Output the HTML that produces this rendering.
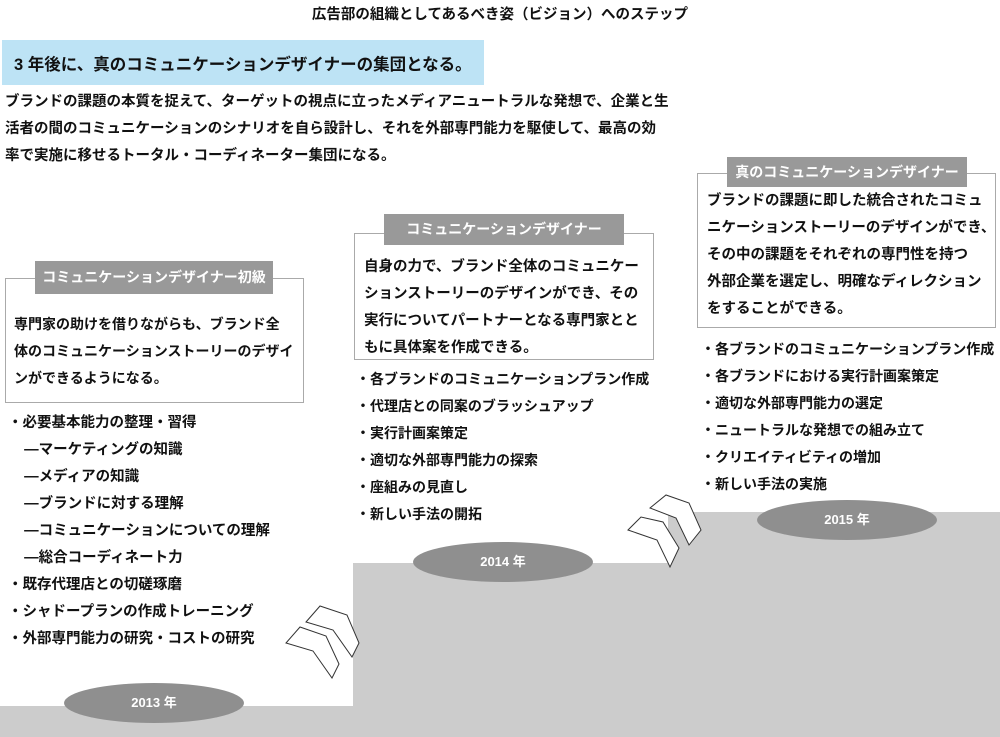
<!DOCTYPE html>
<html><head><meta charset="utf-8"><style>
body{margin:0;width:1000px;height:737px;position:relative;overflow:hidden;background:#fff;font-family:"Liberation Sans","Noto Sans CJK JP",sans-serif;font-weight:bold;color:#111}
.a{position:absolute;white-space:nowrap}
.box{position:absolute;border:1.5px solid #aaa;background:#fff;box-sizing:border-box}
.lab{position:absolute;background:#999;color:#fff;font-size:14px;text-align:center;box-sizing:border-box}
.t{font-size:14.5px;line-height:27px;letter-spacing:0}
.l{font-size:14px;line-height:27px}
.ell{position:absolute;background:#8f8f8f;border-radius:50%;color:#fff;font-size:13px;text-align:center}
</style></head><body>
<svg class="a" style="left:0;top:0" width="1000" height="737">
<polygon points="0,706 353,706 353,563 668,563 668,512 1000,512 1000,737 0,737" fill="#cccccc"/>
<g fill="#fff" stroke="#333" stroke-width="1">
<polygon points="306,622 320,606 347,615 359,643 352,657 333,630"/>
<polygon points="286,643 300,627 326,636 339,664 332,678 313,651"/>
<polygon points="650,508 666,495 689,503 701,530 689,545 676,518"/>
<polygon points="628,530 641,517 663,522 679,548 670,567 657,540"/>
</g>
</svg>
<div class="a" style="left:0;width:1000px;top:3px;text-align:center;font-size:14.5px">広告部の組織としてあるべき姿（ビジョン）へのステップ</div>
<div class="a" style="left:2px;top:40px;width:482px;height:45px;background:#bde3f5"></div>
<div class="a" style="left:14px;top:51px;font-size:16.5px">3 年後に、真のコミュニケーションデザイナーの集団となる。</div>
<div class="a t" style="left:5px;top:89px">ブランドの課題の本質を捉えて、ターゲットの視点に立ったメディアニュートラルな発想で、企業と生<br>活者の間のコミュニケーションのシナリオを自ら設計し、それを外部専門能力を駆使して、最高の効<br>率で実施に移せるトータル・コーディネーター集団になる。</div>

<div class="box" style="left:5px;top:278px;width:299px;height:125px"></div>
<div class="lab" style="left:35px;top:261px;width:238px;height:33px;line-height:33px">コミュニケーションデザイナー初級</div>
<div class="a t" style="left:14px;top:311px;font-size:14px">専門家の助けを借りながらも、ブランド全<br>体のコミュニケーションストーリーのデザイ<br>ンができるようになる。</div>

<div class="box" style="left:354px;top:233px;width:300px;height:127px"></div>
<div class="lab" style="left:384px;top:214px;width:240px;height:31px;line-height:31px">コミュニケーションデザイナー</div>
<div class="a t" style="left:364px;top:254px">自身の力で、ブランド全体のコミュニケー<br>ションストーリーのデザインができ、その<br>実行についてパートナーとなる専門家とと<br>もに具体案を作成できる。</div>

<div class="box" style="left:697px;top:173px;width:299px;height:155px"></div>
<div class="lab" style="left:727px;top:157px;width:240px;height:30px;line-height:30px">真のコミュニケーションデザイナー</div>
<div class="a t" style="left:707px;top:188px">ブランドの課題に即した統合されたコミュ<br>ニケーションストーリーのデザインができ、<br>その中の課題をそれぞれの専門性を持つ<br>外部企業を選定し、明確なディレクション<br>をすることができる。</div>

<div class="a l" style="left:8px;top:410px;font-size:14.5px">・必要基本能力の整理・習得<br>&nbsp;&nbsp;&nbsp;&nbsp;—マーケティングの知識<br>&nbsp;&nbsp;&nbsp;&nbsp;—メディアの知識<br>&nbsp;&nbsp;&nbsp;&nbsp;—ブランドに対する理解<br>&nbsp;&nbsp;&nbsp;&nbsp;—コミュニケーションについての理解<br>&nbsp;&nbsp;&nbsp;&nbsp;—総合コーディネート力<br>・既存代理店との切磋琢磨<br>・シャドープランの作成トレーニング<br>・外部専門能力の研究・コストの研究</div>
<div class="a l" style="left:356px;top:366px">・各ブランドのコミュニケーションプラン作成<br>・代理店との同案のブラッシュアップ<br>・実行計画案策定<br>・適切な外部専門能力の探索<br>・座組みの見直し<br>・新しい手法の開拓</div>
<div class="a l" style="left:701px;top:336px">・各ブランドのコミュニケーションプラン作成<br>・各ブランドにおける実行計画案策定<br>・適切な外部専門能力の選定<br>・ニュートラルな発想での組み立て<br>・クリエイティビティの増加<br>・新しい手法の実施</div>

<div class="ell" style="left:64px;top:683px;width:180px;height:40px;line-height:40px">2013 年</div>
<div class="ell" style="left:413px;top:542px;width:180px;height:40px;line-height:40px">2014 年</div>
<div class="ell" style="left:757px;top:500px;width:180px;height:40px;line-height:40px">2015 年</div>
</body></html>
